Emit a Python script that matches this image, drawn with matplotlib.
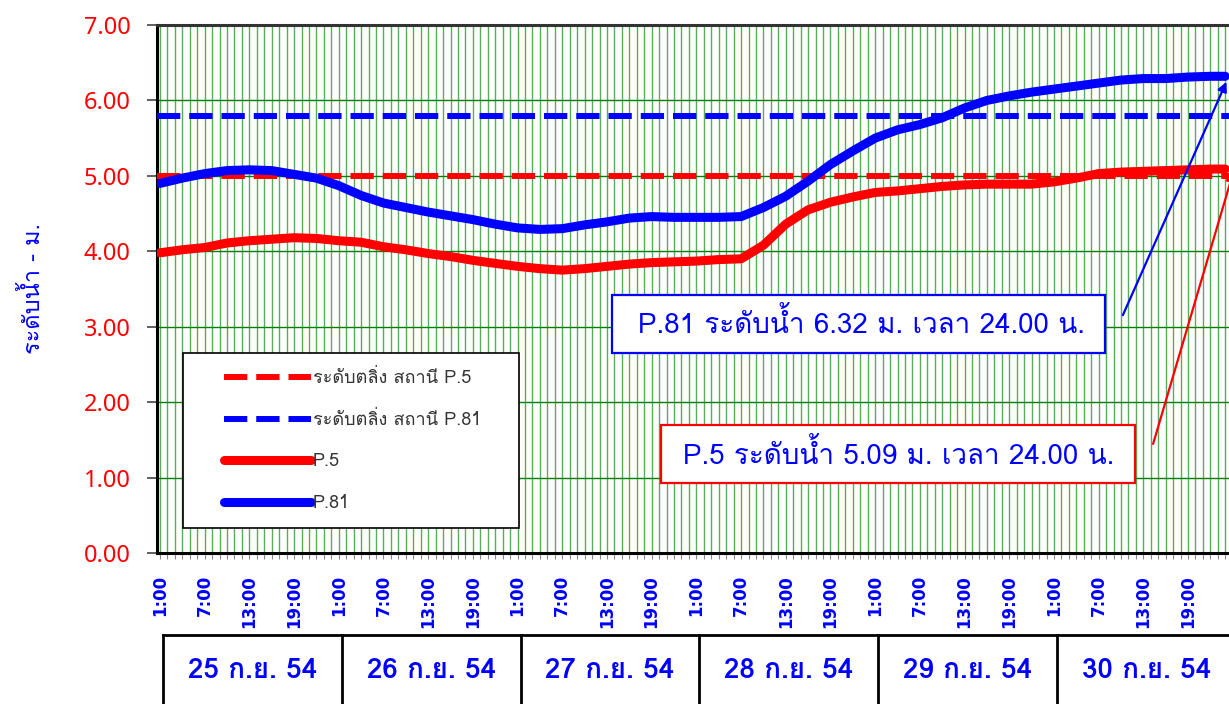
"""Water level chart P.5 / P.81, 25-30 Sep 2011."""

import matplotlib
matplotlib.use("Agg")
import matplotlib.pyplot as plt
from matplotlib import font_manager
from matplotlib.ft2font import FT2Font
from matplotlib.legend_handler import HandlerLine2D
from matplotlib.patches import Rectangle

# hour index (1 = 1:00 on 25 Sep, 144 = 24:00 on 30 Sep), every 3 hours
hours = [1, 4, 7, 10, 13, 16, 19, 22, 25, 28, 31, 34, 37, 40, 43, 46, 49,
         52, 55, 58, 61, 64, 67, 70, 73, 76, 79, 82, 85, 88, 91, 94, 97,
         100, 103, 106, 109, 112, 115, 118, 121, 124, 127, 130, 133, 136,
         139, 142, 144]
p81 = [4.90, 4.97, 5.03, 5.07, 5.08, 5.07, 5.02, 4.97, 4.87, 4.74, 4.64,
       4.58, 4.52, 4.47, 4.42, 4.36, 4.31, 4.29, 4.30, 4.35, 4.39, 4.44,
       4.46, 4.45, 4.45, 4.45, 4.46, 4.58, 4.73, 4.93, 5.15, 5.33, 5.50,
       5.61, 5.68, 5.77, 5.90, 6.00, 6.06, 6.11, 6.15, 6.19, 6.23, 6.27,
       6.29, 6.29, 6.31, 6.32, 6.32]
p5 = [3.98, 4.02, 4.05, 4.11, 4.14, 4.16, 4.18, 4.17, 4.14, 4.12, 4.06,
      4.02, 3.97, 3.93, 3.88, 3.84, 3.80, 3.77, 3.75, 3.77, 3.80, 3.83,
      3.85, 3.86, 3.87, 3.89, 3.90, 4.08, 4.36, 4.55, 4.65, 4.72, 4.78,
      4.80, 4.83, 4.86, 4.88, 4.89, 4.89, 4.89, 4.92, 4.97, 5.03, 5.05,
      5.06, 5.07, 5.08, 5.09, 5.09]
bank_p5 = 5.00
bank_p81 = 5.80

days = ["25 ก.ย. 54", "26 ก.ย. 54", "27 ก.ย. 54",
        "28 ก.ย. 54", "29 ก.ย. 54", "30 ก.ย. 54"]
tick_labels = ["1:00", "7:00", "13:00", "19:00"]


def thai_family():
    """Finds an installed family with Thai glyphs."""
    for f in font_manager.fontManager.ttflist:
        try:
            if 0x0E23 in FT2Font(f.fname).get_charmap():
                return f.name
        except Exception:
            pass
    return None


thai = thai_family()
fams = ([thai] if thai else []) + ["DejaVu Sans"]
plt.rcParams["font.family"] = fams

RED, BLUE, GREEN = "#ff0000", "#0000ff", "#008000"

fig = plt.figure(figsize=(12.29, 7.04), dpi=100)
ax = fig.add_axes([157 / 1229, 151 / 704, 1075 / 1229, 528 / 704])

x0, x1 = 0.6, 144.9
ax.set_xlim(x0, x1)
ax.set_ylim(0, 7)

# grid
for h in range(1, 145):
    ax.axvline(h, color=GREEN, lw=1.0, alpha=0.65, zorder=1)
for v in range(1, 7):
    ax.axhline(v, color=GREEN, lw=1.0, zorder=1)

ax.plot(hours, p5, color=RED, lw=6.5, solid_capstyle="round", zorder=3,
        label="P.5")
ax.axhline(bank_p5, color=RED, lw=4.3, dashes=(3.9, 1.5), zorder=4,
           label="ระดับตลิ่ง สถานี P.5")
ax.plot(hours, p81, color=BLUE, lw=6.5, solid_capstyle="round", zorder=5,
        label="P.81")
ax.axhline(bank_p81, color=BLUE, lw=4.3, dashes=(3.9, 1.5), zorder=6,
           label="ระดับตลิ่ง สถานี P.81")

# axes look
for s in ["left", "top", "bottom"]:
    ax.spines[s].set_linewidth(2.2)
    ax.spines[s].set_color("black")
ax.spines["top"].set_color("#333333")
ax.spines["right"].set_visible(False)

ax.set_yticks(range(8))
ax.set_yticklabels([f"{v:.2f}" for v in range(8)], color=RED, fontsize=17,
                   family=["Noto Sans", "DejaVu Sans"])
ax.tick_params(axis="y", length=7, width=1.2, color="#444444", pad=12)

xt = list(range(1, 145, 6))
ax.set_xticks(xt)
ax.set_xticklabels([tick_labels[i % 4] for i in range(len(xt))],
                   rotation=90, color=BLUE, fontsize=12, fontweight="bold",
                   family=["DejaVu Sans"])
ax.set_xticks(range(1, 145), minor=True)
ax.tick_params(axis="x", which="major", length=4, width=0.8,
               color="#888888", pad=12)
ax.tick_params(axis="x", which="minor", length=4, width=0.8,
               color="#888888")

ax.set_ylabel("ระดับน้ำ - ม.", color=BLUE, fontsize=17, labelpad=28)

# legend
handles, labels = ax.get_legend_handles_labels()
order = [1, 3, 0, 2]
leg = ax.legend([handles[i] for i in order], [labels[i] for i in order],
                loc="lower left", bbox_to_anchor=(0.024, 0.047, 0.313, 0.328),
                mode="expand", fancybox=False, edgecolor="black",
                framealpha=1, fontsize=13, labelspacing=1.3,
                handlelength=6.2, handletextpad=0.1, borderpad=0.9,
                borderaxespad=0, labelcolor="#333333",
                handler_map={h: HandlerLine2D(xpad=1.4) for h in handles})
leg.get_frame().set_linewidth(1.2)
leg.set_zorder(10)

# call-out boxes
ax.add_patch(Rectangle((61.7, 2.65), 66.2, 0.77, fc="white", ec=BLUE,
                       lw=1.6, zorder=11))
ax.text(95.2, 3.04, f"P.81 ระดับน้ำ {p81[-1]:.2f} ม. เวลา 24.00 น.",
        color=BLUE, fontsize=20, ha="center", va="center", zorder=12)
ax.add_patch(Rectangle((68.3, 0.93), 63.6, 0.77, fc="white", ec=RED,
                       lw=1.6, zorder=11))
ax.text(100.1, 1.31, f"P.5 ระดับน้ำ {p5[-1]:.2f} ม. เวลา 24.00 น.",
        color=BLUE, fontsize=20, ha="center", va="center", zorder=12)
ax.annotate("", xy=(144.3, p81[-1] - 0.04), xytext=(130.1, 3.12),
            arrowprops=dict(arrowstyle="-|>", color=BLUE, lw=1.6,
                            mutation_scale=14),
            annotation_clip=False, zorder=12)
ax.annotate("", xy=(145.2, p5[-1]), xytext=(134.2, 1.41),
            arrowprops=dict(arrowstyle="-|>", color=RED, lw=1.6,
                            mutation_scale=14),
            annotation_clip=False, zorder=12)

# day table below the axis
tr = ax.get_xaxis_transform()
top, bot = -0.155, -0.30
edges = [1.4 + 24 * k for k in range(7)]
ax.plot([edges[0], x1 + 2], [top, top], color="black", lw=2,
        transform=tr, clip_on=False)
for e in edges:
    ax.plot([e, e], [top, bot], color="black", lw=2, transform=tr,
            clip_on=False)
for k, d in enumerate(days):
    ax.text(edges[k] + 12, -0.222, d, transform=tr, ha="center",
            va="center", color=BLUE, fontsize=20, fontweight="bold")

fig.savefig("out.png", dpi=100)
